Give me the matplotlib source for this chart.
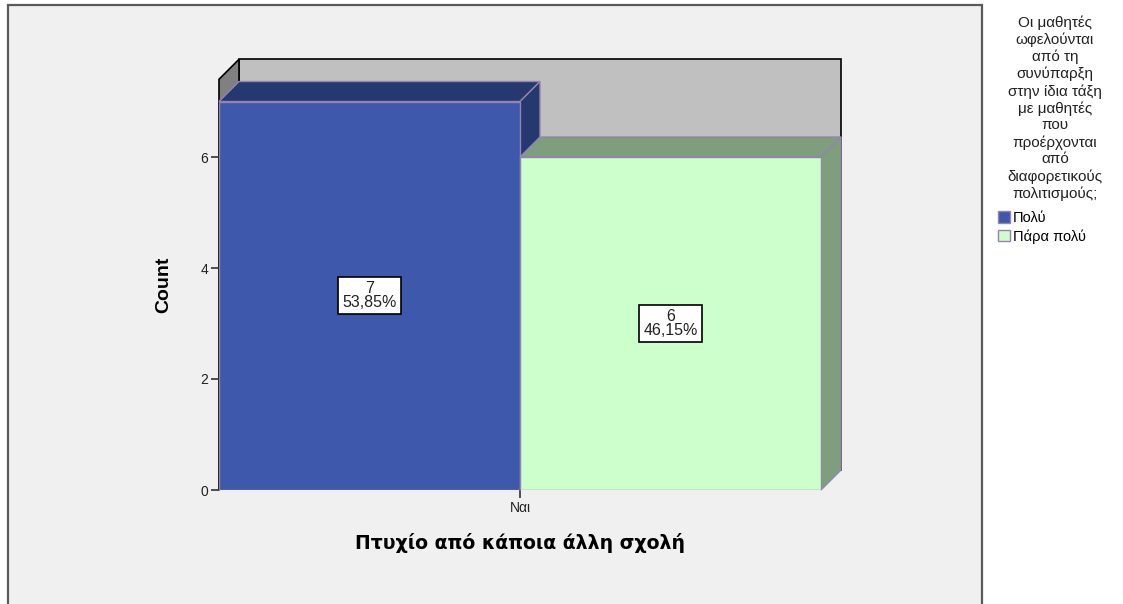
# -*- coding: utf-8 -*-

import matplotlib
matplotlib.use("Agg")
import matplotlib.pyplot as plt
from matplotlib.patches import Polygon, Rectangle, Patch

plt.rcParams['font.family'] = ['Liberation Sans', 'DejaVu Sans']

# data
category = "Ναι"
series = ["Πολύ", "Πάρα πολύ"]
counts = [7, 6]
percents = ["53,85%", "46,15%"]
y_ticks = [0, 2, 4, 6]
x_title = "Πτυχίο από κάποια άλλη σχολή"
y_title = "Count"
legend_title = ("Οι μαθητές\nωφελούνται\nαπό τη\nσυνύπαρξη\nστην ίδια τάξη\n"
                "με μαθητές\nπου\nπροέρχονται\nαπό\nδιαφορετικούς\nπολιτισμούς;")

# styles
front_colors = ["#3E58AC", "#CCFFCC"]
dark_colors = ["#263870", "#7E9E7E"]
edge_color = "#9484B0"
W, H = 1123, 604
DEPTH = 20  # px

fig = plt.figure(figsize=(W / 100, H / 100), dpi=100)
fig.patch.set_facecolor("white")

# grey chart panel (drawn in its own background axes)
bg = fig.add_axes([0, 0, 1, 1], zorder=-5)
bg.set_xlim(0, 1)
bg.set_ylim(0, 1)
bg.axis('off')
bg.add_patch(Rectangle((8 / W, -0.01), (982 - 8) / W, (H - 5) / H + 0.01,
                       facecolor="#F0F0F0", edgecolor="#5A5A5A", linewidth=1.6))

ymax = 7.4
ax = fig.add_axes([219 / W, (H - 490) / H, 602 / W, 410.7 / H], zorder=1)
ax.set_xlim(-0.5, 0.5)
ax.set_ylim(0, ymax)
ax.patch.set_visible(False)
for s in ax.spines.values():
    s.set_visible(False)

dx = DEPTH / 602 * 1.0
dy = DEPTH / 410.7 * ymax

# back wall + left wall
ax.add_patch(Rectangle((-0.5 + dx, dy), 1.0, ymax, facecolor="#C0C0C0",
                       edgecolor="black", linewidth=1.2, clip_on=False, zorder=1))
ax.add_patch(Polygon([(-0.5, 0), (-0.5 + dx, dy), (-0.5 + dx, ymax + dy), (-0.5, ymax)],
                     closed=True, facecolor="#808080", edgecolor="black",
                     linewidth=1.2, clip_on=False, zorder=1))

w = 1.0 / len(series)
for i, (c, p) in enumerate(zip(counts, percents)):
    x0 = -0.5 + i * w
    x1 = x0 + w
    z = 2 + i
    ax.bar(x0, c, width=w, align='edge', color=front_colors[i], edgecolor=edge_color,
           linewidth=1.0, zorder=z + 0.2)
    ax.add_patch(Polygon([(x0, c), (x1, c), (x1 + dx, c + dy), (x0 + dx, c + dy)],
                         closed=True, facecolor=dark_colors[i], edgecolor=edge_color,
                         linewidth=1.0, clip_on=False, zorder=z))
    ax.add_patch(Polygon([(x1, 0), (x1 + dx, dy), (x1 + dx, c + dy), (x1, c)],
                         closed=True, facecolor=dark_colors[i], edgecolor=edge_color,
                         linewidth=1.0, clip_on=False, zorder=z))
    ax.text((x0 + x1) / 2, c / 2, "%d\n%s" % (c, p), ha='center', va='center',
            fontsize=11.5, linespacing=0.88, color="#222222", zorder=10,
            bbox=dict(boxstyle="square,pad=0.27", facecolor="white",
                      edgecolor="black", linewidth=1.2))

ax.set_yticks(y_ticks)
ax.set_yticklabels([str(t) for t in y_ticks])
ax.set_xticks([0])
ax.set_xticklabels([category])
ax.tick_params(axis='both', length=6, width=1.2, color="#333333", labelsize=10,
               labelcolor="#222222", pad=2)

ax.set_ylabel(y_title, fontsize=14, fontweight='bold')
ax.yaxis.set_label_coords(-0.078, 0.5)
ax.set_xlabel(x_title, fontsize=13.6, fontweight='bold', family=['DejaVu Sans'])
ax.xaxis.set_label_coords(0.5, -0.129)
ax.xaxis.label.set_va('center')

# legend
fig.text(1055 / W, 1 - 15 / H, legend_title, ha='center', va='top', fontsize=11,
         multialignment='center', linespacing=1.24, color="#222222")
handles = [Patch(facecolor=front_colors[i], edgecolor=edge_color, linewidth=1.0)
           for i in range(len(series))]
fig.legend(handles, series, loc='upper left', bbox_to_anchor=(998 / W, 1 - 211 / H),
           frameon=False, fontsize=10.5, handlelength=0.8, handleheight=0.8,
           handletextpad=0.2, labelspacing=0.3, borderaxespad=0, borderpad=0)

fig.savefig("out.png", dpi=100)
